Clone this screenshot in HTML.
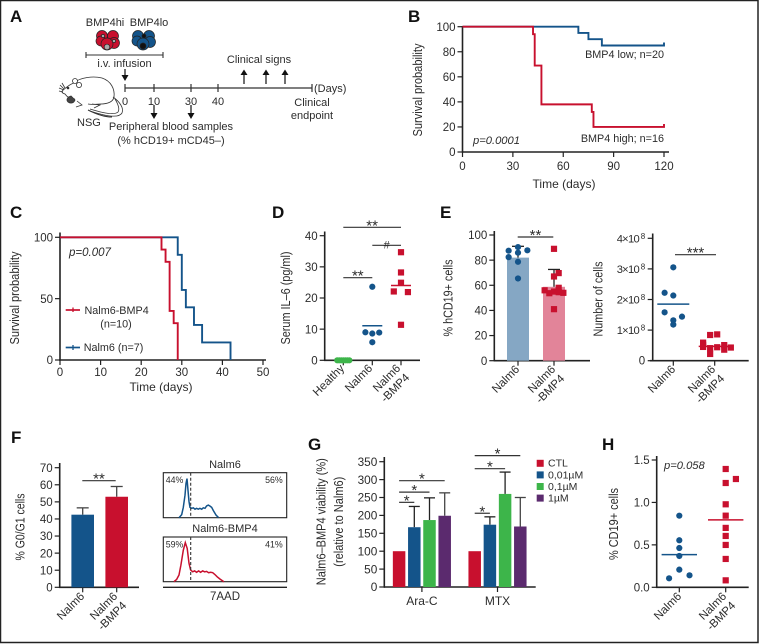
<!DOCTYPE html>
<html lang="en">
<head>
<meta charset="utf-8">
<title>BMP4 multi-panel figure</title>
<style>
html,body{margin:0;padding:0;background:#fff}
svg{display:block;font-family:"Liberation Sans",sans-serif}
text{fill:#2c2c2c}
</style>
</head>
<body>
<svg id="fig" xmlns="http://www.w3.org/2000/svg" width="759" height="644" viewBox="0 0 759 644">
<rect x="0.5" y="0.5" width="757.5" height="642" fill="#fff" stroke="#222" stroke-width="1.5"/>
<g id="panel-a" stroke-linecap="butt">
  <text x="10" y="22" font-size="17" font-weight="bold" style="fill:#111">A</text>
  <text x="105" y="26" font-size="11" text-anchor="middle">BMP4hi</text>
  <text x="149" y="26" font-size="11" text-anchor="middle">BMP4lo</text>
  <g stroke="#222" stroke-width="0.7">
    <circle cx="113" cy="36" r="5.5" fill="#c8102e"/><circle cx="102" cy="36" r="5.5" fill="#c8102e"/><circle cx="114" cy="43" r="5.5" fill="#c8102e"/><circle cx="101" cy="41" r="5" fill="#c8102e"/><circle cx="107" cy="44" r="6" fill="#c8102e"/>
    <circle cx="107" cy="47" r="2.8" fill="#aaa"/><circle cx="114" cy="41" r="1.6" fill="#aaa"/><circle cx="103" cy="36" r="1.6" fill="#aaa"/>
  </g>
  <g stroke="#222" stroke-width="0.7">
    <circle cx="149" cy="36" r="5.5" fill="#14548a"/><circle cx="138" cy="36" r="5.5" fill="#14548a"/><circle cx="150" cy="42" r="5.5" fill="#14548a"/><circle cx="137" cy="41" r="5" fill="#14548a"/><circle cx="143" cy="44" r="6" fill="#14548a"/>
    <circle cx="143" cy="46" r="3" fill="#111"/><circle cx="144" cy="36" r="2" fill="#111"/>
  </g>
  <path d="M86 52V58M86 55H163M163 52V58" fill="none" stroke="#333" stroke-width="1.1"/>
  <text x="124.5" y="67" font-size="11" text-anchor="middle">i.v. infusion</text>
  <path d="M125 69V76" stroke="#111" stroke-width="1.2" fill="none"/>
  <path d="M121.5 75H128.5L125 81Z" fill="#111"/>
  <path d="M125 84V92M125 88H312M154 84V92M191 84V92M218 84V92M312 84V92" fill="none" stroke="#333" stroke-width="1.2"/>
  <text x="125" y="105" font-size="11" text-anchor="middle">0</text>
  <text x="154" y="105" font-size="11" text-anchor="middle">10</text>
  <text x="191" y="105" font-size="11" text-anchor="middle">30</text>
  <text x="218" y="105" font-size="11" text-anchor="middle">40</text>
  <text x="314" y="92" font-size="11">(Days)</text>
  <text x="259" y="63" font-size="11" text-anchor="middle">Clinical signs</text>
  <g>
    <path d="M244 84V74M266 84V74M285 84V74" stroke="#111" stroke-width="1.2" fill="none"/>
    <path d="M240.5 75H247.5L244 69.5ZM262.5 75H269.5L266 69.5ZM281.5 75H288.5L285 69.5Z" fill="#111"/>
  </g>
  <text x="312" y="106" font-size="11" text-anchor="middle">Clinical</text>
  <text x="312" y="119" font-size="11" text-anchor="middle">endpoint</text>
  <g>
    <path d="M154 105V114M191 105V114" stroke="#111" stroke-width="1.2" fill="none"/>
    <path d="M150.5 113H157.5L154 119ZM187.5 113H194.5L191 119Z" fill="#111"/>
  </g>
  <text x="171" y="130" font-size="11" text-anchor="middle">Peripheral blood samples</text>
  <text x="171" y="144" font-size="11" text-anchor="middle">(% hCD19+ mCD45–)</text>
  <text x="77" y="126" font-size="11">NSG</text>
  <g fill="none" stroke="#333" stroke-width="0.8">
    <path d="M74 83C80 77 94 76 102 78C111 81 115 89 114 97C113 102 108 104 100 104C96 104 92 105 88 104"/>
    <path d="M74 83C70 84 67 87 63 90C61 92 62 93 65 94C67 97 70 99 75 99"/>
    <circle cx="75" cy="81" r="2.5" fill="#fff"/><circle cx="79" cy="85" r="2.6" fill="#fff"/>
    <circle cx="68" cy="88" r="0.9" fill="#222"/>
    <path d="M60 85L64 89M59 88L64 90M59 91L63 92M62 83L65 88"/>
    <path d="M71 96C67 97 66 100 68 102C71 104 74 103 75 100Z" fill="#444"/>
    <path d="M77 101L82 105L76 107M92 104L100 105L94 108"/>
    <path d="M113 97C120 102 124 108 122 113C119 118 108 117 90 111"/>
    <path d="M115 99C118 104 120 109 118 112C115 115 106 114 90 109"/>
    <path d="M88 110C96 114 104 117 112 117" stroke-width="1"/>
  </g>
</g>
<g id="charts"></g>
<script>
// Panel B – survival
const bTimesLow = [69, 75, 83];
const bSurvLow = [95, 90, 85];
const bTimesHigh = [42, 43, 47, 77, 78];
const bSurvHigh = [94, 69, 38, 32, 20];
const bXEnd = [120];
const bXTicks = [0, 30, 60, 90, 120];
const bYTicks = [0, 20, 40, 60, 80, 100];
// Panel C – survival
const cTimesBmp4 = [25, 26, 27, 28, 29];
const cSurvBmp4 = [90, 80, 40, 30, 0];
const cTimesNalm6 = [29, 30, 31, 33, 35, 42];
const cSurvNalm6 = [85.7, 57.1, 42.9, 28.6, 14.3, 0];
const cXTicks = [0, 10, 20, 30, 40, 50];
const cYTicks = [0, 50, 100];
// Panel D – serum IL-6
const dHealthy = [0, 0, 0, 0, 0, 0, 0];
const dHealthySpread = [-0.21, -0.14, -0.07, 0, 0.07, 0.14, 0.21];
const dNalm6 = [23.6, 9.0, 8.6, 8.9, 5.8];
const dNalm6Spread = [0, -0.24, 0, 0.24, 0];
const dBmp4 = [34.7, 28.2, 24.9, 22.1, 21.9, 11.4];
const dBmp4Spread = [0, 0, 0, -0.25, 0.24, 0];
const dMeans = [0, 11.1, 24.0];
const dYTicks = [0, 10, 20, 30, 40];
// Panel E left – % hCD19+
const eBars = [82, 58.8];
const eErrTop = [91, 72.6];
const eNalm6 = [90.4, 87.5, 87.8, 85.9, 82.4, 78.7, 65.4];
const eNalm6Spread = [0, -0.26, 0.26, 0, -0.26, 0, 0];
const eBmp4 = [89, 69.7, 67, 56, 58, 53.7, 55, 54.5, 54, 41];
const eBmp4Spread = [0, 0.13, 0, -0.26, 0.13, -0.13, 0, 0.13, 0.26, 0];
const eYTicks = [0, 20, 40, 60, 80, 100];
// Panel E right – number of cells (×10^8)
const nNalm6 = [3.05, 2.22, 2.13, 1.58, 1.44, 1.32, 1.18];
const nNalm6Spread = [0, -0.21, 0, -0.21, 0.21, 0, 0];
const nBmp4 = [0.84, 0.86, 0.59, 0.52, 0.45, 0.41, 0.44, 0.51, 0.36, 0.43, 0.22];
const nBmp4Spread = [-0.11, 0.06, -0.28, -0.28, -0.28, -0.11, 0.06, 0.23, 0.23, 0.39, -0.11];
const nMeans = [1.85, 0.47];
const nYTicks = [1, 2, 3, 4];
// Panel F – G0/G1 bars
const fBars = [42.5, 53];
const fErrTop = [46.5, 59];
const fYTicks = [0, 10, 20, 30, 40, 50, 60, 70];
// Panel F – 7AAD histograms
const hist1Channel = [127,149,162,176,184,192,200,208,216,230,243,257,270,284,297,311,324,338,351,365,378,392,405,427,448];
const hist1Count = [0,7,23,50,76,87,61,36,23,21,22,19,21,19,21,19,22,21,26,28,26,23,16,6,0];
const hist2Channel = [86,108,127,143,162,178,194,208,221,238,254,270,286,302,319,335,351,367,383,400,418,437,459,491];
const hist2Count = [0,5,15,37,70,87,74,41,26,22,24,21,24,21,24,22,23,20,21,20,16,11,6,0];
const histGate = [222];
// Panel G – viability
const gGroups = ['Ara-C', 'MTX'];
const gDoses = ['CTL', '0,01µM', '0,1µM', '1µM'];
const gAraC = [100, 167, 187, 199];
const gAraCErr = [100, 225, 249, 263];
const gMtx = [100, 174, 260, 169];
const gMtxErr = [100, 196, 321, 250];
const gSigFrom = [0, 0, 0, 0, 0, 0];
const gSigGroup = [0, 0, 0, 1, 1, 1];
const gSigTo = [1, 2, 3, 1, 2, 3];
const gSigLevel = [236.5, 265, 297, 206, 330.5, 367];
const gYTicks = [0, 50, 100, 150, 200, 250, 300, 350];
// Panel H – % CD19+
const hNalm6 = [0.844, 0.554, 0.463, 0.369, 0.208, 0.106, 0.141];
const hNalm6Spread = [0, 0, 0, 0, 0, -0.22, 0.22];
const hBmp4 = [1.394, 1.229, 1.276, 0.978, 0.844, 0.70, 0.605, 0.499, 0.334, 0.082];
const hBmp4Spread = [0, 0, 0.22, 0, 0, 0, 0, 0, 0, 0];
const hMeans = [0.385, 0.795];
const hYTicks = [0, 0.5, 1, 1.5];

const NS = 'http://www.w3.org/2000/svg';
const RED = '#c8102e', BLUE = '#14548a', GREEN = '#3db54a', PURPLE = '#5b2a6e', INK = '#222';
const root = document.getElementById('charts');
function linear(d0, d1, r0, r1) { return v => r0 + (v - d0) * (r1 - r0) / (d1 - d0); }
function mk(parent, tag, name, attrs) {
  const el = document.createElementNS(NS, tag);
  
  
  for (const k in attrs) el.setAttribute(k, attrs[k]);
  parent.appendChild(el);
  return el;
}
function panel(name) { return mk(root, 'g', name, {}); }
function txt(p, name, s, x, y, size, anchor, extra) {
  const t = mk(p, 'text', name, Object.assign({ x: x, y: y, 'font-size': size, 'text-anchor': anchor || 'start' }, extra || {}));
  t.textContent = s;
  return t;
}
function line(p, name, x1, y1, x2, y2, color, w) {
  return mk(p, 'line', name, { x1: x1, y1: y1, x2: x2, y2: y2, stroke: color || INK, 'stroke-width': w || 1.3 });
}
function letter(p, s, x, y) { txt(p, 'panel-' + s.toLowerCase() + '-label', s, x, y, 17, 'start', { 'font-weight': 'bold', style: 'fill:#111' }); }
function yAxis(p, sy, ticks, x, top, size, fmt) {
  line(p, 'y-axis-line', x, top, x, sy(ticks[0]) + 0.7, INK, 1.6);
  ticks.forEach(v => {
    line(p, 'y-tick', x - 5, sy(v), x, sy(v), INK, 1.2);
    txt(p, 'y-tick-label', fmt ? fmt(v) : String(v), x - 7, sy(v) + size * 0.36, size, 'end');
  });
}
function xLine(p, x0, x1, y) { line(p, 'x-axis-line', x0, y, x1, y, INK, 1.6); }
function xTicks(p, sx, ticks, y, size, ly) {
  ticks.forEach(v => {
    line(p, 'x-tick', sx(v), y, sx(v), y + 5, INK, 1.2);
    txt(p, 'x-tick-label', String(v), sx(v), ly, size, 'middle');
  });
}
function catTick(p, x, y) { line(p, 'x-tick', x, y, x, y + 5, INK, 1.2); }
function rotLabel(p, name, lines, x, y, size) {
  const g = mk(p, 'g', name, { transform: 'translate(' + x + ',' + y + ') rotate(-45)' });
  lines.forEach((s, i) => {
    txt(g, name + '-line', s, 0, i * 13, size, 'end');
  });
}
function yTitle(p, name, s, x, y, len, size) {
  txt(p, name, s, 0, 0, size || 13, 'middle', { transform: 'translate(' + x + ',' + y + ') rotate(-90)', textLength: len, lengthAdjust: 'spacingAndGlyphs' });
}
function steps(times, surv, sx, sy, tEnd) {
  let d = 'M' + sx(0) + ' ' + sy(100);
  times.forEach((t, i) => { d += 'H' + sx(t) + 'V' + sy(surv[i]); });
  if (tEnd !== undefined) d += 'H' + sx(tEnd) + 'v-3';
  return d;
}
function circles(p, name, vals, spread, cx, catW, sy, color) {
  vals.forEach((v, i) => mk(p, 'circle', name, { cx: cx + spread[i] * catW, cy: sy(v), r: 3.1, fill: color }));
}
function squares(p, name, vals, spread, cx, catW, sy, color) {
  vals.forEach((v, i) => mk(p, 'rect', name, { x: cx + spread[i] * catW - 3.1, y: sy(v) - 3.1, width: 6.2, height: 6.2, fill: color }));
}
function sig(p, name, x1, x2, y, label, size) {
  line(p, name + '-line', x1, y, x2, y, '#333', 1.2);
  txt(p, name + '-label', label, (x1 + x2) / 2, y + 3, size || 15, 'middle');
}
function meanBar(p, name, cx, half, y, color) { line(p, name, cx - half, y, cx + half, y, color, 1.5); }
function errBar(p, name, x, y0, y1, cap, color) {
  line(p, name, x, y0, x, y1, color || INK, 1.3);
  line(p, name + '-cap', x - cap, y1, x + cap, y1, color || INK, 1.3);
}

// ---- B
(function () {
  const p = panel('panel-b-survival-chart');
  letter(p, 'B', 408, 22);
  const sx = linear(0, 120, 462.5, 664), sy = linear(0, 100, 152, 26.7);
  yAxis(p, sy, bYTicks, 462.5, 26, 11.5);
  xLine(p, 462, 669, 152);
  xTicks(p, sx, bXTicks, 152, 11.5, 170);
  yTitle(p, 'y-axis-title', 'Survival probability', 422, 90, 93);
  txt(p, 'x-axis-title', 'Time (days)', 564, 188, 12, 'middle');
  mk(p, 'path', 'series-bmp4-low', { d: steps(bTimesLow, bSurvLow, sx, sy, bXEnd[0]), fill: 'none', stroke: BLUE, 'stroke-width': 1.9 });
  mk(p, 'path', 'series-bmp4-high', { d: steps(bTimesHigh, bSurvHigh, sx, sy, bXEnd[0]), fill: 'none', stroke: RED, 'stroke-width': 1.9 });
  txt(p, 'label-bmp4-low', 'BMP4 low; n=20', 664, 58, 10.8, 'end');
  txt(p, 'label-bmp4-high', 'BMP4 high; n=16', 664, 142, 10.8, 'end');
  txt(p, 'p-value', 'p=0.0001', 473, 144, 11.2, 'start', { 'font-style': 'italic' });
})();

// ---- C
(function () {
  const p = panel('panel-c-survival-chart');
  letter(p, 'C', 10, 218);
  const sx = linear(0, 50, 60, 263), sy = linear(0, 100, 360, 237.3);
  yAxis(p, sy, cYTicks, 60, 232.5, 11.5);
  xLine(p, 59, 266, 360);
  xTicks(p, sx, cXTicks, 360, 11.5, 376);
  yTitle(p, 'y-axis-title', 'Survival probability', 19, 298, 93);
  txt(p, 'x-axis-title', 'Time (days)', 161, 391, 12, 'middle');
  mk(p, 'path', 'series-nalm6', { d: steps(cTimesNalm6, cSurvNalm6, sx, sy), fill: 'none', stroke: BLUE, 'stroke-width': 1.9 });
  mk(p, 'path', 'series-nalm6-bmp4', { d: steps(cTimesBmp4, cSurvBmp4, sx, sy), fill: 'none', stroke: RED, 'stroke-width': 1.9 });
  txt(p, 'p-value', 'p=0.007', 69, 256, 11.5, 'start', { 'font-style': 'italic' });
  line(p, 'legend-swatch-nalm6-bmp4', 65.7, 310, 80, 310, RED, 1.7);
  line(p, 'legend-tick-nalm6-bmp4', 73, 307.5, 73, 312, RED, 1.3);
  txt(p, 'legend-entry-nalm6-bmp4', 'Nalm6-BMP4', 84.5, 314, 10.8);
  txt(p, 'legend-entry-nalm6-bmp4-n', '(n=10)', 116, 327.5, 10.8, 'middle');
  line(p, 'legend-swatch-nalm6', 65.7, 347.5, 80, 347.5, BLUE, 1.7);
  line(p, 'legend-tick-nalm6', 73, 345, 73, 350, BLUE, 1.3);
  txt(p, 'legend-entry-nalm6', 'Nalm6 (n=7)', 83.7, 351, 10.8);
})();

// ---- D
(function () {
  const p = panel('panel-d-il6-chart');
  letter(p, 'D', 272, 218);
  const sy = linear(0, 40, 360.3, 235.7), cats = [343.3, 372.3, 401], w = 28.8;
  yAxis(p, sy, dYTicks, 324.7, 231.5, 11.5);
  xLine(p, 324, 420, 360.3);
  cats.forEach(c => catTick(p, c, 360.3));
  yTitle(p, 'y-axis-title', 'Serum IL–6 (pg/ml)', 290, 298, 93);
  rotLabel(p, 'category-healthy', ['Healthy'], 345, 369, 11.5);
  rotLabel(p, 'category-nalm6', ['Nalm6'], 373, 369, 11.5);
  rotLabel(p, 'category-nalm6-bmp4', ['Nalm6', '-BMP4'], 401, 369, 11.5);
  circles(p, 'point-healthy', dHealthy, dHealthySpread, cats[0], w, sy, GREEN);
  circles(p, 'point-nalm6', dNalm6, dNalm6Spread, cats[1], w, sy, BLUE);
  squares(p, 'point-nalm6-bmp4', dBmp4, dBmp4Spread, cats[2], w, sy, RED);
  meanBar(p, 'mean-nalm6', cats[1], 10, sy(dMeans[1]), BLUE);
  meanBar(p, 'mean-nalm6-bmp4', cats[2], 10, sy(dMeans[2]), RED);
  sig(p, 'sig-healthy-nalm6', cats[0], cats[1], 277.7, '**');
  sig(p, 'sig-nalm6-bmp4', cats[1], cats[2], 245.3, '#', 11);
  sig(p, 'sig-healthy-bmp4', cats[0], cats[2], 227.3, '**');
})();

// ---- E left
(function () {
  const p = panel('panel-e-hcd19-chart');
  letter(p, 'E', 440, 218);
  const sy = linear(0, 100, 360.7, 235), cats = [518, 554], w = 36;
  yAxis(p, sy, eYTicks, 494.3, 231, 11.5);
  xLine(p, 494, 590, 360.7);
  cats.forEach(c => catTick(p, c, 360.7));
  yTitle(p, 'y-axis-title', '% hCD19+ cells', 452.7, 298, 77);
  rotLabel(p, 'category-nalm6', ['Nalm6'], 520, 370, 11.5);
  rotLabel(p, 'category-nalm6-bmp4', ['Nalm6', '-BMP4'], 556, 370, 11.5);
  const cols = ['#85a7c4', '#e28499'];
  eBars.forEach((v, i) => {
    mk(p, 'rect', 'bar-' + (i ? 'nalm6-bmp4' : 'nalm6'), { x: cats[i] - 11, y: sy(v), width: 22, height: sy(0) - sy(v), fill: cols[i] });
    errBar(p, 'error-bar', cats[i], sy(v), sy(eErrTop[i]), 6);
  });
  circles(p, 'point-nalm6', eNalm6, eNalm6Spread, cats[0], w, sy, BLUE);
  squares(p, 'point-nalm6-bmp4', eBmp4, eBmp4Spread, cats[1], w, sy, RED);
  sig(p, 'sig-nalm6-bmp4', 517.7, 553.3, 237, '**');
})();

// ---- E right
(function () {
  const p = panel('panel-e-cell-number-chart');
  const sy = linear(0, 4, 360.7, 238.3), cats = [673.3, 714.7], w = 41.4, ax = 652.7;
  line(p, 'y-axis-line', ax, 233.5, ax, 361.4, INK, 1.6);
  xLine(p, 650, 748.7, 360.7);
  line(p, 'y-tick', ax - 5, sy(0), ax, sy(0), INK, 1.2);
  txt(p, 'y-tick-label', '0', ax - 7.5, sy(0) + 4, 11.5, 'end');
  nYTicks.forEach(v => {
    line(p, 'y-tick', ax - 5, sy(v), ax, sy(v), INK, 1.2);
    const t = txt(p, 'y-tick-label', v + '×10', ax - 13, sy(v) + 4, 11.2, 'end');
    t.setAttribute('textLength', 23);
    txt(p, 'y-tick-exponent', '8', ax - 7.5, sy(v) + 0.5, 8, 'end');
  });
  cats.forEach(c => catTick(p, c, 360.7));
  yTitle(p, 'y-axis-title', 'Number of cells', 602.7, 299, 75);
  rotLabel(p, 'category-nalm6', ['Nalm6'], 676, 370, 11.5);
  rotLabel(p, 'category-nalm6-bmp4', ['Nalm6', '-BMP4'], 716, 370, 11.5);
  meanBar(p, 'mean-nalm6', cats[0], 16, sy(nMeans[0]), BLUE);
  meanBar(p, 'mean-nalm6-bmp4', cats[1], 16, sy(nMeans[1]), RED);
  circles(p, 'point-nalm6', nNalm6, nNalm6Spread, cats[0], w, sy, BLUE);
  squares(p, 'point-nalm6-bmp4', nBmp4, nBmp4Spread, cats[1], w, sy, RED);
  sig(p, 'sig-nalm6-bmp4', 675, 716, 254.7, '***');
})();

// ---- F bars
(function () {
  const p = panel('panel-f-g0g1-chart');
  letter(p, 'F', 11, 443);
  const sy = linear(0, 70, 587.3, 467.7), cats = [82.7, 116.7];
  yAxis(p, sy, fYTicks, 59.7, 463, 11.5);
  xLine(p, 59, 139, 587.3);
  cats.forEach(c => catTick(p, c, 587.3));
  yTitle(p, 'y-axis-title', '% G0/G1 cells', 24.3, 527, 67);
  rotLabel(p, 'category-nalm6', ['Nalm6'], 85, 597, 11.5);
  rotLabel(p, 'category-nalm6-bmp4', ['Nalm6', '-BMP4'], 118, 597, 11.5);
  const cols = [BLUE, RED];
  fBars.forEach((v, i) => {
    mk(p, 'rect', 'bar-' + (i ? 'nalm6-bmp4' : 'nalm6'), { x: cats[i] - 11.3, y: sy(v), width: 22.6, height: sy(0) - sy(v), fill: cols[i] });
    errBar(p, 'error-bar', cats[i], sy(v), sy(fErrTop[i]), 6, '#444');
  });
  sig(p, 'sig-nalm6-bmp4', 82.3, 115.7, 480.7, '**');
})();

// ---- F histograms
(function () {
  const p = panel('panel-f-7aad-histograms');
  const sx = linear(0, 1000, 163.3, 286.7);
  function hist(name, title, titleY, top, bottom, chan, cnt, color, l, r) {
    const sy = linear(0, 100, bottom, bottom - 45);
    txt(p, name + '-title', title, 225, titleY, 11, 'middle');
    mk(p, 'rect', name + '-frame', { x: 163.3, y: top, width: 123.4, height: bottom - top, fill: 'none', stroke: INK, 'stroke-width': 1.1 });
    let d = '';
    chan.forEach((c, i) => { d += (i ? 'L' : 'M') + sx(c).toFixed(1) + ' ' + sy(cnt[i]).toFixed(1); });
    mk(p, 'path', name + '-curve', { d: d, fill: 'none', stroke: color, 'stroke-width': 1.5 });
    mk(p, 'line', name + '-gate', { x1: sx(histGate[0]), y1: top, x2: sx(histGate[0]), y2: bottom, stroke: '#333', 'stroke-width': 1.1, 'stroke-dasharray': '3 2' });
    txt(p, name + '-left-percent', l, 165.7, top + 10.5, 8.8);
    txt(p, name + '-right-percent', r, 282.7, top + 10.5, 8.8, 'end');
  }
  hist('histogram-nalm6', 'Nalm6', 468, 472.7, 517.7, hist1Channel, hist1Count, BLUE, '44%', '56%');
  hist('histogram-nalm6-bmp4', 'Nalm6-BMP4', 532, 537, 581.7, hist2Channel, hist2Count, RED, '59%', '41%');
  line(p, 'histogram-x-axis', 163, 587.3, 287, 587.3, INK, 1.3);
  txt(p, 'x-axis-title', '7AAD', 225, 600, 11.5, 'middle');
})();

// ---- G
(function () {
  const p = panel('panel-g-viability-chart');
  letter(p, 'G', 308, 450);
  const sy = linear(0, 350, 587, 461.7), ax = 384.3;
  const groupCenters = [421.9, 497.5], step = 15.2, barW = 12.5;
  const barX = (g, d) => groupCenters[g] + (d - 1.5) * step;
  yAxis(p, sy, gYTicks, ax, 457, 11.8);
  xLine(p, 384, 535.7, 587);
  const cols = [RED, BLUE, GREEN, PURPLE];
  [gAraC, gMtx].forEach((vals, g) => {
    const errs = g ? gMtxErr : gAraCErr;
    vals.forEach((v, d) => {
      const cx = barX(g, d);
      if (d > 0) errBar(p, 'error-bar', cx, sy(v), sy(errs[d]), 5.5, d === 3 ? '#444' : INK);
      mk(p, 'rect', 'bar-' + gGroups[g].toLowerCase() + '-dose-' + d, { x: cx - barW / 2, y: sy(v), width: barW, height: sy(0) - sy(v), fill: cols[d] });
    });
    catTick(p, groupCenters[g], 587);
    txt(p, 'category-' + gGroups[g].toLowerCase(), gGroups[g], groupCenters[g], 605, 12, 'middle');
  });
  gSigLevel.forEach((lv, i) => {
    sig(p, 'sig-bracket', barX(gSigGroup[i], gSigFrom[i]), barX(gSigGroup[i], gSigTo[i]), sy(lv), '*', 15);
  });
  yTitle(p, 'y-axis-title-line-1', 'Nalm6–BMP4 viability (%)', 325.7, 521.7, 127);
  yTitle(p, 'y-axis-title-line-2', '(relative to Nalm6)', 343, 521.7, 90);
  gDoses.forEach((s, i) => {
    mk(p, 'rect', 'legend-swatch', { x: 536.7, y: 459.8 + i * 11.6, width: 7, height: 7, fill: cols[i] });
    txt(p, 'legend-entry', s, 548, 466.7 + i * 11.6, 10.5);
  });
})();

// ---- H
(function () {
  const p = panel('panel-h-cd19-chart');
  letter(p, 'H', 602, 450);
  const sy = linear(0, 1.5, 587.3, 460), cats = [679.3, 725.7], w = 46.4;
  yAxis(p, sy, hYTicks, 656.7, 456, 11.5, v => v.toFixed(1));
  xLine(p, 656, 748.7, 587.3);
  cats.forEach(c => catTick(p, c, 587.3));
  yTitle(p, 'y-axis-title', '% CD19+ cells', 618, 524, 72);
  rotLabel(p, 'category-nalm6', ['Nalm6'], 682, 597, 11.5);
  rotLabel(p, 'category-nalm6-bmp4', ['Nalm6', '-BMP4'], 727, 597, 11.5);
  circles(p, 'point-nalm6', hNalm6, hNalm6Spread, cats[0], w, sy, BLUE);
  squares(p, 'point-nalm6-bmp4', hBmp4, hBmp4Spread, cats[1], w, sy, RED);
  meanBar(p, 'mean-nalm6', cats[0], 17.7, sy(hMeans[0]), BLUE);
  meanBar(p, 'mean-nalm6-bmp4', cats[1], 17.7, sy(hMeans[1]), RED);
  txt(p, 'p-value', 'p=0.058', 664, 469, 11.2, 'start', { 'font-style': 'italic' });
})();
</script>
</svg>
</body>
</html>
